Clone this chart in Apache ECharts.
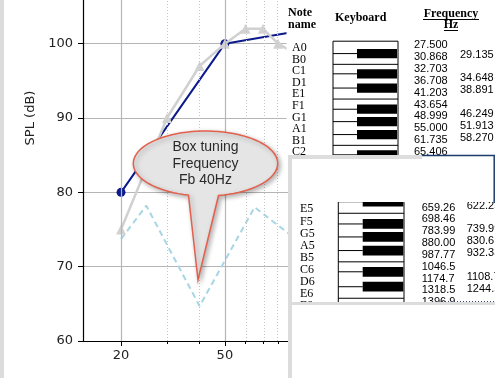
<!DOCTYPE html>
<html>
<head>
<meta charset="utf-8">
<script src="https://cdn.jsdelivr.net/npm/echarts@6/dist/echarts.min.js"></script>
<style>
html,body{margin:0;padding:0;background:#fff}
#c{width:495px;height:378px}
</style>
</head>
<body>
<div id="c"></div>
<script>
// SPL curves, frequency in Hz
var freqTicks = [20, 50];
var freqMinor = [30, 40, 60, 70, 80];
var blueFreq = [20, 50, 100];
var blueSpl = [80, 100, 101.8];
var greyFreq = [20, 30, 40, 50, 60, 70, 80, 100];
var greySpl = [75, 90, 97, 100, 102, 102, 100, 98];
var dashFreq = [20, 25, 40, 65, 100];
var dashSpl = [73.7, 78.2, 64.7, 78, 72.9];

var calloutLines = ['Box tuning', 'Frequency', 'Fb 40Hz'];

// piano note tables (two cut-out pictures)
var topNotes = ['A0','B0','C1','D1','E1','F1','G1','A1','B1','C2'];
var topWhite = ['27.500','30.868','32.703','36.708','41.203','43.654','48.999','55.000','61.735','65.406'];
var topBlack = ['29.135','','34.648','38.891','','46.249','51.913','58.270','','69.296'];
var lowNotes = ['D5','E5','F5','G5','A5','B5','C6','D6','E6','F6'];
var lowWhite = ['587.33','659.26','698.46','783.99','880.00','987.77','1046.5','1174.7','1318.5','1396.9'];
var lowBlack = ['622.25','','739.99','830.61','932.33','','1108.7','1244.5','','1480.0'];

function pts(f, s) {
  return f.map(function (v, i) { return [Math.log10(v), s[i]]; });
}

var els = [];
function add(e) { e.z = 10 + els.length; e.silent = true; els.push(e); }
function rect(x, y, w, h, fill) { add({type: 'rect', shape: {x: x, y: y, width: w, height: h}, style: {fill: fill}}); }
function line(x1, y1, x2, y2, col, w, dash) {
  add({type: 'line', shape: {x1: x1, y1: y1, x2: x2, y2: y2}, style: {stroke: col, lineWidth: w || 1, lineDash: dash || null}});
}
function text(x, y, s, font, align) {
  add({type: 'text', x: x, y: y, style: {text: s, font: font, fill: '#000', textAlign: align || 'left', textVerticalAlign: 'middle'}});
}

// callout bubble: ellipse with a pointer down to the 40 Hz dip
var cx = 205.5, cy = 163.5, rx = 72.2, ry = 32.5;
var bub = [];
var t0 = Math.acos(0.18), t1 = Math.acos(-0.2355) - 2 * Math.PI;
for (var k = 0; k <= 80; k++) {
  var t = t0 + (t1 - t0) * k / 80;
  bub.push([cx + rx * Math.cos(t), cy + ry * Math.sin(t)]);
}
bub.push([198, 280]);
add({
  type: 'polygon',
  shape: {points: bub},
  style: {fill: '#e5e5e5', stroke: '#e2604c', lineWidth: 1.5, shadowBlur: 5, shadowOffsetX: 2, shadowOffsetY: 2, shadowColor: 'rgba(0,0,0,0.3)'}
});
calloutLines.forEach(function (s, i) {
  add({type: 'text', x: cx, y: 147.5 + i * 16.5, style: {text: s, font: '14px "Liberation Sans"', fill: '#2a2a2a', textAlign: 'center', textVerticalAlign: 'middle'}});
});

var blackOff = {C: -0.18, D: 0.05, F: -0.12, G: -0.05, A: 0.07};
function panel(p, notes, white, black) {
  var n = notes.length;
  line(p.kbX, p.keyTop, p.kbX + p.kbW, p.keyTop, '#000', 1);
  line(p.kbX, p.keyTop, p.kbX, p.keyTop + n * p.u, '#000', 1);
  line(p.kbX + p.kbW, p.keyTop, p.kbX + p.kbW, p.keyTop + n * p.u, '#000', 1);
  for (var i = 0; i < n; i++) {
    var b = p.keyTop + (i + 1) * p.u;
    var off = blackOff[notes[i][0]];
    if (off !== undefined) {
      var c = b + off * p.u;
      line(p.kbX, c, p.bkX, c, '#000', 1);
      rect(p.bkX, c - 0.4 * p.u, p.bkW, 0.8 * p.u, '#000');
    } else {
      line(p.kbX, b, p.kbX + p.kbW, b, '#000', 1);
    }
    text(p.nameX, p.keyTop + (i + 0.5) * p.u + p.nameOff, notes[i], '12px "Liberation Serif"');
    var fy = p.fTop + i * p.fStep;
    text(p.f1X, fy, white[i], '11px "Liberation Sans"');
    if (black[i]) text(p.f2X, fy + 9.5 * p.u / 11.57, black[i], '11px "Liberation Sans"');
  }
}

// left frame strip
rect(0, 0, 4, 378, '#dcdcdc');

// top picture
rect(286.5, 0, 209, 156, '#fff');
text(288, 13, 'Note', 'bold 12px "Liberation Serif"');
text(288, 24.5, 'name', 'bold 12px "Liberation Serif"');
text(335, 17.5, 'Keyboard', 'bold 12px "Liberation Serif"');
text(451, 13.5, 'Frequency', 'bold 12px "Liberation Serif"', 'center');
line(423, 19.5, 479, 19.5, '#000', 1);
text(451, 25, 'Hz', 'bold 12px "Liberation Serif"', 'center');
line(444, 30.5, 458, 30.5, '#000', 1);
panel({kbX: 333, kbW: 65, bkX: 357, bkW: 40, nameX: 292, f1X: 414, f2X: 460,
       keyTop: 41.2, u: 11.57, nameOff: 1, fTop: 45, fStep: 11.9}, topNotes, topWhite, topBlack);

// lower picture
rect(288, 155, 207, 223, '#fff');
panel({kbX: 338.3, kbW: 65.7, bkX: 362.7, bkW: 40.6, nameX: 300, f1X: 421.7, f2X: 466.7,
       keyTop: 189, u: 12.14, nameOff: 2, fTop: 195.65, fStep: 11.85}, lowNotes, lowWhite, lowBlack);
rect(292, 159, 203, 43, '#fff');
rect(292, 302, 203, 76, '#fff');
rect(288, 155, 134, 4, '#dedede');
line(422, 155.5, 495, 155.5, '#1c3c6c', 1.5);
line(494.2, 155, 494.2, 203, '#1c3c6c', 1.5);
rect(288, 155, 4, 223, '#dcdcdc');
rect(291, 302, 204, 3, '#dcdcdc');
line(442, 301.5, 495, 301.5, '#3a4a7a', 1, [1, 2]);

var gridLines = freqTicks.map(function (f) {
  return {xAxis: Math.log10(f), lineStyle: {color: '#b5b5b5', width: 1.2, type: 'solid'}};
}).concat(freqMinor.map(function (f) {
  return {xAxis: Math.log10(f), lineStyle: {color: '#c4c4c4', width: 1, type: [1, 2]}};
}));

var xBase = {
  type: 'value', min: Math.log10(14.3), max: Math.log10(200), gridIndex: 0, position: 'bottom',
  splitLine: {show: false}
};

var chart = echarts.init(document.getElementById('c'));
chart.setOption({
  animation: false,
  grid: {left: 83, right: 113, top: -105, bottom: 37, containLabel: false, outerBoundsMode: 'none'},
  xAxis: [
    Object.assign({}, xBase, {
      axisLine: {show: true, onZero: false, lineStyle: {color: '#000', width: 1.2}},
      axisTick: {show: true, length: 5, customValues: freqTicks.map(Math.log10), lineStyle: {color: '#000'}},
      axisLabel: {show: true, margin: 8, customValues: freqTicks.map(Math.log10), color: '#222',
        fontFamily: 'DejaVu Sans', fontSize: 13,
        formatter: function (v) { return Math.round(Math.pow(10, v)); }}
    }),
    Object.assign({}, xBase, {
      axisLine: {show: false},
      axisTick: {show: true, length: 3, customValues: freqMinor.map(Math.log10), lineStyle: {color: '#000'}},
      axisLabel: {show: false}
    })
  ],
  yAxis: {
    type: 'value', min: 60, max: 120, interval: 10,
    name: 'SPL (dB)', nameLocation: 'middle', nameGap: 42, nameRotate: 90,
    nameTextStyle: {fontFamily: 'DejaVu Sans', fontSize: 13, color: '#222'},
    axisLine: {show: true, lineStyle: {color: '#000', width: 1.2}},
    axisTick: {show: true, length: 5, lineStyle: {color: '#000'}},
    axisLabel: {margin: 10, color: '#222', fontFamily: 'DejaVu Sans', fontSize: 13},
    splitLine: {show: true, lineStyle: {color: '#b5b5b5', width: 1.2}}
  },
  series: [
    {type: 'line', z: 1, data: [], silent: true,
     markLine: {symbol: ['none', 'none'], silent: true, label: {show: false}, animation: false, data: gridLines}},
    {type: 'line', z: 2, data: pts(dashFreq, dashSpl), symbol: 'none',
     lineStyle: {color: '#a6d6e6', width: 2, type: [6, 4]}},
    {type: 'line', z: 3, data: pts(blueFreq, blueSpl), symbol: 'circle', symbolSize: 9,
     itemStyle: {color: '#0b1b8c'}, lineStyle: {color: '#0b1b8c', width: 2}},
    {type: 'line', z: 4, data: pts(greyFreq, greySpl), symbol: 'triangle', symbolSize: 10,
     itemStyle: {color: '#d2d2d2'}, lineStyle: {color: '#d0d0d0', width: 2.5}}
  ],
  graphic: {elements: els}
});
</script>
</body>
</html>
